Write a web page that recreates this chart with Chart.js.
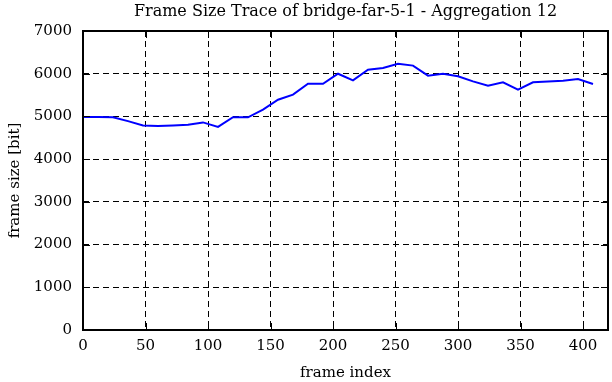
<!DOCTYPE html>
<html>
<head>
<meta charset="utf-8">
<script src="https://cdn.jsdelivr.net/npm/chart.js@4.4.0/dist/chart.umd.min.js"></script>
<style>
  html, body { margin: 0; padding: 0; background: #fff; }
  #wrap { width: 612px; height: 382px; }
</style>
</head>
<body>
<div id="wrap"><canvas id="traceChart" width="612" height="382"></canvas></div>
<script>
// frame index (aggregated, one point every 12 frames)
const frameIndex = [0, 12, 24, 36, 48, 60, 72, 84, 96, 108, 120, 132, 144, 156, 168, 180, 192,
    204, 216, 228, 240, 252, 264, 276, 288, 300, 312, 324, 336, 348, 360, 372, 384, 396, 408];
// frame size [bit]
const frameSize = [4985, 4985, 4980, 4890, 4790, 4775, 4790, 4805, 4860, 4755, 4980, 4980, 5160,
    5390, 5510, 5765, 5765, 6000, 5845, 6095, 6135, 6235, 6190, 5955, 6000, 5940, 5820, 5720,
    5800, 5625, 5800, 5820, 5835, 5875, 5760];
const xTicks = [0, 50, 100, 150, 200, 250, 300, 350, 400];
const yTicks = [0, 1000, 2000, 3000, 4000, 5000, 6000, 7000];
const chartTitle = 'Frame Size Trace of bridge-far-5-1 - Aggregation 12';

const serif = 'DejaVu Serif';

// inward tick marks on all four sides, frame, and title centred on the plot
const frameAndTicks = {
    id: 'frameAndTicks',
    afterDatasetsDraw(chart) {
        const { ctx, chartArea: a, scales } = chart;
        const len = 7;
        ctx.save();
        ctx.strokeStyle = '#000';
        ctx.lineWidth = 1;
        ctx.beginPath();
        xTicks.forEach(v => {
            const x = Math.round(scales.x.getPixelForValue(v)) + 0.5;
            ctx.moveTo(x, a.bottom); ctx.lineTo(x, a.bottom - len);
            ctx.moveTo(x, a.top); ctx.lineTo(x, a.top + len);
        });
        yTicks.forEach(v => {
            const y = Math.round(scales.y.getPixelForValue(v)) + 0.5;
            ctx.moveTo(a.left, y); ctx.lineTo(a.left + len, y);
            ctx.moveTo(a.right, y); ctx.lineTo(a.right - len, y);
        });
        ctx.stroke();
        ctx.lineWidth = 2;
        ctx.strokeRect(a.left, a.top, a.right - a.left, a.bottom - a.top);

        ctx.fillStyle = '#000';
        ctx.font = '16px "' + serif + '"';
        ctx.textAlign = 'center';
        ctx.textBaseline = 'middle';
        ctx.fillText(chartTitle, (a.left + a.right) / 2, 12);
        ctx.restore();
    }
};

document.addEventListener('DOMContentLoaded', function () {
    const ctx = document.getElementById('traceChart').getContext('2d');
    new Chart(ctx, {
        type: 'line',
        data: {
            datasets: [{
                data: frameIndex.map((f, i) => ({ x: f, y: frameSize[i] })),
                borderColor: '#0000ff',
                borderWidth: 2,
                pointRadius: 0,
                tension: 0,
                fill: false
            }]
        },
        options: {
            responsive: false,
            animation: false,
            layout: { padding: { left: 0, right: 4, top: 31, bottom: 0 } },
            plugins: {
                legend: { display: false },
                tooltip: { enabled: false },
                title: { display: false }
            },
            scales: {
                x: {
                    type: 'linear',
                    min: 0,
                    max: 420,
                    afterBuildTicks: s => { s.ticks = xTicks.map(v => ({ value: v })); },
                    afterFit: s => { s.height = 52; },
                    grid: { color: '#000', lineWidth: 1, drawTicks: false },
                    border: { display: false, dash: [6, 4] },
                    ticks: {
                        color: '#000', padding: 7, maxRotation: 0,
                        font: { family: serif, size: 15 },
                        callback: v => String(v)
                    },
                    title: {
                        display: true, text: 'frame index', color: '#000',
                        font: { family: serif, size: 15 }, padding: { top: 0, bottom: 0 }
                    }
                },
                y: {
                    min: 0,
                    max: 7000,
                    afterBuildTicks: s => { s.ticks = yTicks.map(v => ({ value: v })); },
                    afterFit: s => { s.width = 83; },
                    grid: { color: '#000', lineWidth: 1, drawTicks: false },
                    border: { display: false, dash: [6, 4] },
                    ticks: {
                        color: '#000', padding: 11,
                        font: { family: serif, size: 15 },
                        callback: v => String(v)
                    },
                    title: {
                        display: true, text: 'frame size [bit]', color: '#000',
                        font: { family: serif, size: 15 }, padding: { top: 6, bottom: 0 }
                    }
                }
            }
        },
        plugins: [frameAndTicks]
    });
});
</script>
</body>
</html>
